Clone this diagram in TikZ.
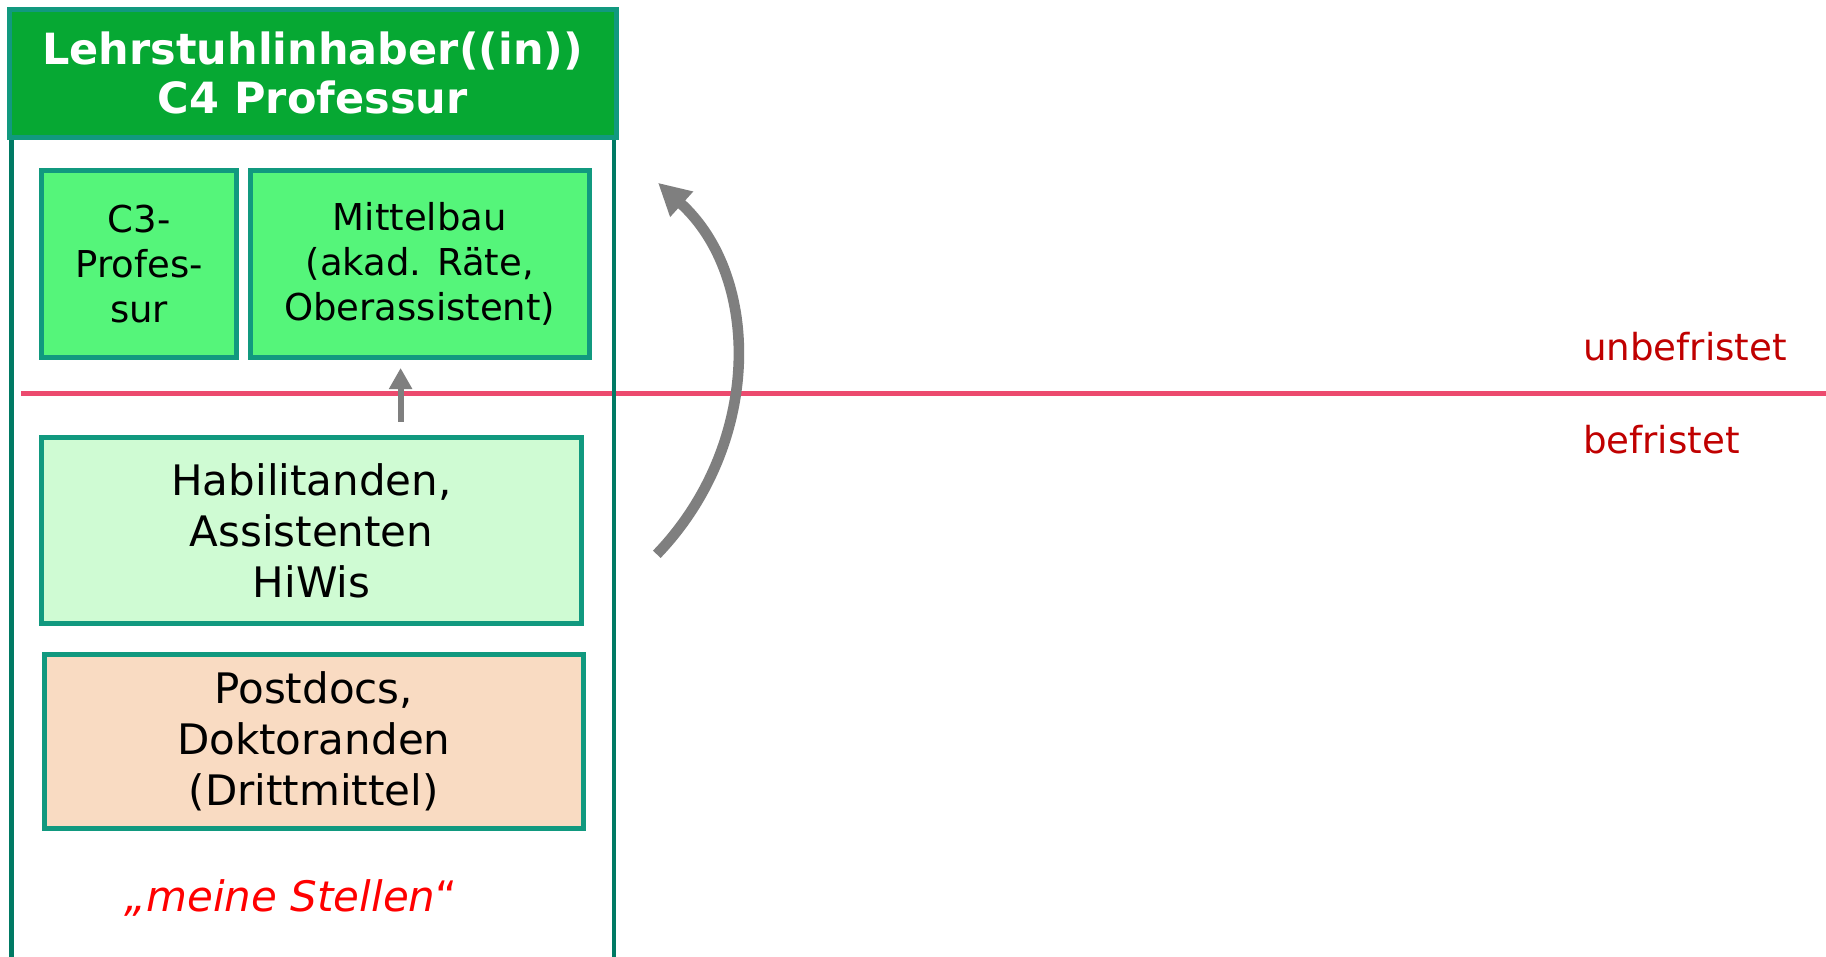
\documentclass[tikz,border=0pt]{standalone}
\usepackage{fontspec}
\setmainfont{DejaVu Sans}
\usetikzlibrary{arrows.meta}
\definecolor{kopf}{RGB}{6,168,51}
\definecolor{rand}{RGB}{17,153,127}
\definecolor{rahmen}{RGB}{0,122,100}
\definecolor{fest}{RGB}{85,245,122}
\definecolor{hell}{RGB}{207,251,211}
\definecolor{dritt}{RGB}{249,219,194}
\definecolor{linie}{RGB}{236,74,110}
\definecolor{dunkelrot}{RGB}{192,0,0}
\definecolor{grau}{RGB}{127,127,127}
\tikzset{stelle/.style={rectangle,draw=rand,line width=2.5pt,align=center,inner sep=0pt}}
\tikzset{kopfbox/.style={stelle,fill=kopf,text=white,font=\bfseries\fontsize{21.5}{24.5}\selectfont}}
\tikzset{klein/.style={font=\fontsize{18.5}{22.5}\selectfont}}
\tikzset{gross/.style={font=\fontsize{21}{25.5}\selectfont}}
\tikzset{frist/.style={text=dunkelrot,font=\fontsize{18.6}{20}\selectfont,inner sep=0pt}}
\tikzset{pf/.style={grau,line width=3pt,-{Triangle[length=10.5pt,width=11pt]}}}
\tikzset{bogen/.style={grau,line width=5.3pt,-{Triangle[length=16pt,width=16pt]}}}

\begin{document}
\begin{tikzpicture}[x=0.5pt,y=-0.5pt]
  \useasboundingbox[fill=white] (0,0) rectangle (1826,957);
  % Trennlinie
  \draw[linie,line width=2.2pt] (21,393.6) -- (1826,393.6);
  \node[frist] (U) at (1685,347) {unbefristet};
  \node[frist,anchor=west] (B) at (U.west |- 0,440) {befristet};
  % Rahmen
  \draw[rahmen,line width=2.2pt] (11.6,137.4) -- (11.6,957);
  \draw[rahmen,line width=2.2pt] (613.7,137.4) -- (613.7,957);
  \node[kopfbox,minimum width=303.3pt,minimum height=64pt] (H) at (312.7,73.4) {Lehrstuhlinhaber((in))\\C4 Professur};
  % Stellen
  \node[stelle,klein,fill=fest,minimum width=97.3pt,minimum height=93.7pt] (C3) at (139.2,263.8) {C3-\\Profes-\\sur};
  \node[stelle,klein,fill=fest,minimum width=169.4pt,minimum height=93.7pt] (M) at (419.8,263.8) {Mittelbau\\(akad. Räte,\\Oberassistent)};
  \node[stelle,gross,fill=hell,minimum width=269.6pt,minimum height=92.6pt] (HA) at (311.5,530.4) {Habilitanden,\\Assistenten\\HiWis};
  \node[stelle,gross,fill=dritt,minimum width=269.6pt,minimum height=87.4pt] (PD) at (313.8,741.5) {Postdocs,\\Doktoranden\\(Drittmittel)};
  \node[text=red,gross,inner sep=0pt] (MS) at (291,898) {{\itshape „meine Stellen}“};
  % Pfeile
  \coordinate (a0) at (400.6,421.5);
  \coordinate (a1) at (400.6,368);
  \draw[pf] (a0) -- (a1);
  \coordinate (b0) at (656.8,554.3);
  \coordinate (b1) at (658,182.8);
  \draw[bogen] (b0) .. controls (762,445) and (762,277) .. (b1);
\end{tikzpicture}
\end{document}
